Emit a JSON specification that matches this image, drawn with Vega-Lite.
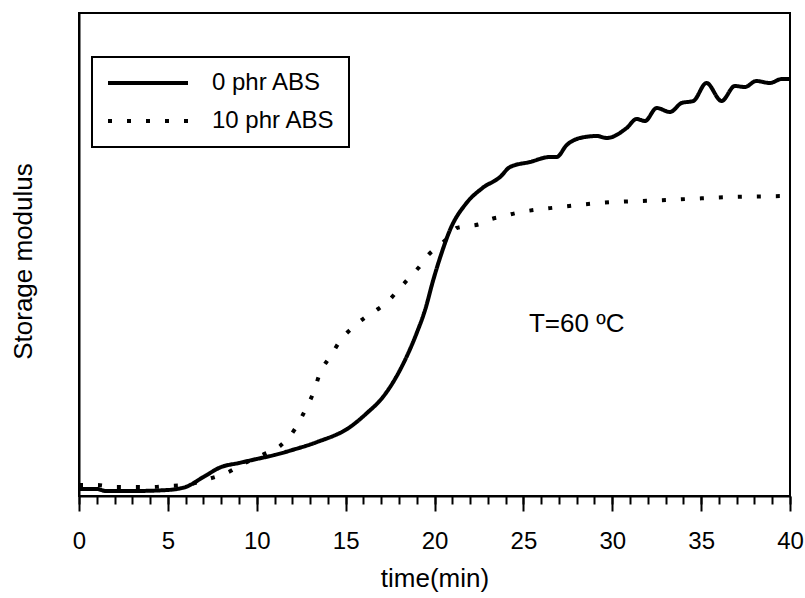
{
  "$schema": "https://vega.github.io/schema/vega-lite/v6.json",
  "width": 711,
  "height": 483,
  "autosize": {"type": "none"},
  "padding": {"left": 79, "top": 13, "right": 15, "bottom": 102},
  "background": "white",
  "config": {
    "font": "Liberation Sans",
    "view": {"stroke": "black", "strokeWidth": 2},
    "legend": {"strokeWidth": 2},
    "axis": {"grid": false, "domainColor": "black", "tickColor": "black", "labelColor": "black", "titleColor": "black", "titleFontWeight": "normal"}
  },
  "datasets": {
    "curves": [
      {"t": 0, "G": 7, "series": "0 phr ABS"},
      {"t": 1, "G": 7, "series": "0 phr ABS"},
      {"t": 1.5, "G": 5, "series": "0 phr ABS"},
      {"t": 3, "G": 5, "series": "0 phr ABS"},
      {"t": 5, "G": 6, "series": "0 phr ABS"},
      {"t": 5.5, "G": 7, "series": "0 phr ABS"},
      {"t": 6, "G": 9, "series": "0 phr ABS"},
      {"t": 7, "G": 19, "series": "0 phr ABS"},
      {"t": 8, "G": 29, "series": "0 phr ABS"},
      {"t": 9, "G": 33, "series": "0 phr ABS"},
      {"t": 10, "G": 37, "series": "0 phr ABS"},
      {"t": 11, "G": 41, "series": "0 phr ABS"},
      {"t": 12, "G": 46, "series": "0 phr ABS"},
      {"t": 13.4, "G": 54, "series": "0 phr ABS"},
      {"t": 15.25, "G": 69, "series": "0 phr ABS"},
      {"t": 16.2, "G": 83, "series": "0 phr ABS"},
      {"t": 17.1, "G": 99, "series": "0 phr ABS"},
      {"t": 18.06, "G": 126, "series": "0 phr ABS"},
      {"t": 19.0, "G": 163, "series": "0 phr ABS"},
      {"t": 19.47, "G": 186, "series": "0 phr ABS"},
      {"t": 19.93, "G": 216, "series": "0 phr ABS"},
      {"t": 20.4, "G": 243, "series": "0 phr ABS"},
      {"t": 20.87, "G": 266, "series": "0 phr ABS"},
      {"t": 21.8, "G": 293, "series": "0 phr ABS"},
      {"t": 22.7, "G": 308, "series": "0 phr ABS"},
      {"t": 23.69, "G": 319, "series": "0 phr ABS"},
      {"t": 24.25, "G": 329, "series": "0 phr ABS"},
      {"t": 25.37, "G": 334, "series": "0 phr ABS"},
      {"t": 26.5, "G": 339, "series": "0 phr ABS"},
      {"t": 26.87, "G": 339, "series": "0 phr ABS"},
      {"t": 27.44, "G": 351, "series": "0 phr ABS"},
      {"t": 28.19, "G": 358, "series": "0 phr ABS"},
      {"t": 29.13, "G": 360, "series": "0 phr ABS"},
      {"t": 29.69, "G": 358, "series": "0 phr ABS"},
      {"t": 30.81, "G": 368, "series": "0 phr ABS"},
      {"t": 31.37, "G": 377, "series": "0 phr ABS"},
      {"t": 31.84, "G": 375, "series": "0 phr ABS"},
      {"t": 32.5, "G": 388, "series": "0 phr ABS"},
      {"t": 33.25, "G": 384, "series": "0 phr ABS"},
      {"t": 33.9, "G": 393, "series": "0 phr ABS"},
      {"t": 34.56, "G": 395, "series": "0 phr ABS"},
      {"t": 35.3, "G": 413, "series": "0 phr ABS"},
      {"t": 36.15, "G": 395, "series": "0 phr ABS"},
      {"t": 36.9, "G": 410, "series": "0 phr ABS"},
      {"t": 37.47, "G": 409, "series": "0 phr ABS"},
      {"t": 38.1, "G": 415, "series": "0 phr ABS"},
      {"t": 38.87, "G": 413, "series": "0 phr ABS"},
      {"t": 39.53, "G": 417, "series": "0 phr ABS"},
      {"t": 40, "G": 417, "series": "0 phr ABS"},
      {"t": 0, "G": 11, "series": "10 phr ABS"},
      {"t": 1, "G": 11, "series": "10 phr ABS"},
      {"t": 2, "G": 9, "series": "10 phr ABS"},
      {"t": 3, "G": 9, "series": "10 phr ABS"},
      {"t": 4, "G": 9, "series": "10 phr ABS"},
      {"t": 5, "G": 10, "series": "10 phr ABS"},
      {"t": 6, "G": 11, "series": "10 phr ABS"},
      {"t": 7.27, "G": 17, "series": "10 phr ABS"},
      {"t": 8.3, "G": 23, "series": "10 phr ABS"},
      {"t": 9.34, "G": 33, "series": "10 phr ABS"},
      {"t": 10.3, "G": 41, "series": "10 phr ABS"},
      {"t": 11.31, "G": 50, "series": "10 phr ABS"},
      {"t": 12.15, "G": 67, "series": "10 phr ABS"},
      {"t": 12.7, "G": 85, "series": "10 phr ABS"},
      {"t": 13.2, "G": 104, "series": "10 phr ABS"},
      {"t": 13.56, "G": 123, "series": "10 phr ABS"},
      {"t": 14.16, "G": 140, "series": "10 phr ABS"},
      {"t": 14.72, "G": 156, "series": "10 phr ABS"},
      {"t": 15.43, "G": 169, "series": "10 phr ABS"},
      {"t": 16.05, "G": 178, "series": "10 phr ABS"},
      {"t": 16.75, "G": 186, "series": "10 phr ABS"},
      {"t": 17.35, "G": 194, "series": "10 phr ABS"},
      {"t": 18.0, "G": 207, "series": "10 phr ABS"},
      {"t": 18.57, "G": 218, "series": "10 phr ABS"},
      {"t": 19.09, "G": 228, "series": "10 phr ABS"},
      {"t": 19.65, "G": 241, "series": "10 phr ABS"},
      {"t": 20.27, "G": 251, "series": "10 phr ABS"},
      {"t": 20.83, "G": 259, "series": "10 phr ABS"},
      {"t": 21.25, "G": 268, "series": "10 phr ABS"},
      {"t": 21.9, "G": 270, "series": "10 phr ABS"},
      {"t": 22.56, "G": 272, "series": "10 phr ABS"},
      {"t": 23.2, "G": 277, "series": "10 phr ABS"},
      {"t": 23.69, "G": 279, "series": "10 phr ABS"},
      {"t": 24.6, "G": 283, "series": "10 phr ABS"},
      {"t": 27.06, "G": 289, "series": "10 phr ABS"},
      {"t": 29.3, "G": 293, "series": "10 phr ABS"},
      {"t": 33.06, "G": 296, "series": "10 phr ABS"},
      {"t": 36.8, "G": 299, "series": "10 phr ABS"},
      {"t": 40, "G": 300, "series": "10 phr ABS"}
    ],
    "note": [{"t": 28.0, "G": 172, "label": "T=60 ºC"}]
  },
  "layer": [
    {
      "data": {"name": "curves"},
      "mark": {"type": "line", "color": "black", "strokeWidth": 4, "interpolate": "monotone", "strokeCap": "butt"},
      "encoding": {
        "x": {"field": "t", "type": "quantitative", "scale": {"domain": [0, 40], "nice": false, "zero": false},
          "axis": {"values": [0, 5, 10, 15, 20, 25, 30, 35, 40], "tickSize": 15, "tickWidth": 2, "domainWidth": 2, "labelFontSize": 24, "labelPadding": 18, "title": "time(min)", "titleFontSize": 26, "titlePadding": 12, "labelFlush": false}},
        "y": {"field": "G", "type": "quantitative", "scale": {"domain": [0, 483], "nice": false},
          "axis": {"labels": false, "ticks": false, "domainWidth": 2, "title": "Storage modulus", "titleFontSize": 26, "titlePadding": 43, "titleY": 248}},
        "strokeDash": {"field": "series", "type": "nominal",
          "scale": {"domain": ["0 phr ABS", "10 phr ABS"], "range": [[1, 0], [4, 15]]},
          "legend": {"title": null, "orient": "none", "legendX": 13, "legendY": 44, "fillColor": "white", "strokeColor": "black", "padding": 14, "symbolType": "stroke", "symbolSize": 6400, "clipHeight": 24, "symbolStrokeWidth": 4, "symbolStrokeColor": "black", "labelFontSize": 24, "labelColor": "black", "labelOffset": 22, "rowPadding": 14, "labelFont": "Liberation Sans"}}
      }
    },
    {
      "data": {"name": "note"},
      "mark": {"type": "text", "fontSize": 26, "color": "black", "align": "center", "baseline": "middle", "font": "Liberation Sans"},
      "encoding": {
        "x": {"field": "t", "type": "quantitative", "scale": {"domain": [0, 40], "nice": false, "zero": false},
          "axis": {"values": [0, 1, 2, 3, 4, 5, 6, 7, 8, 9, 10, 11, 12, 13, 14, 15, 16, 17, 18, 19, 20, 21, 22, 23, 24, 25, 26, 27, 28, 29, 30, 31, 32, 33, 34, 35, 36, 37, 38, 39, 40], "orient": "bottom", "tickSize": 8, "tickWidth": 2, "labels": false, "domain": false, "title": null}},
        "y": {"field": "G", "type": "quantitative",
          "axis": {"labels": false, "ticks": false, "domainWidth": 2, "title": "Storage modulus", "titleFontSize": 26, "titlePadding": 43, "titleY": 248}},
        "text": {"field": "label"}
      }
    }
  ],
  "resolve": {"axis": {"x": "independent"}}
}
